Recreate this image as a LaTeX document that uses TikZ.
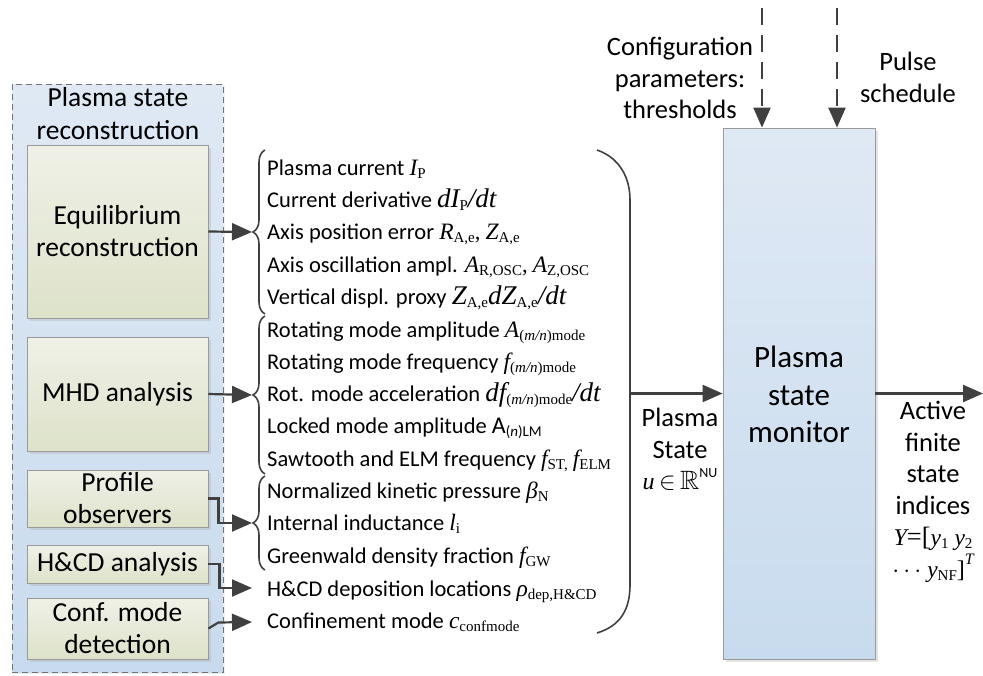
\documentclass[tikz,border=0pt]{standalone}
\usepackage{fontspec}
\usepackage{amssymb}
\setmainfont{Carlito}
\newfontfamily\tms{Liberation Serif}
\usetikzlibrary{arrows.meta,decorations.pathreplacing,shadows}
\definecolor{linec}{HTML}{404040}
\definecolor{gtop}{HTML}{EFF1E7}
\definecolor{gbot}{HTML}{DDE2C9}
\definecolor{btop}{HTML}{DFE9F4}
\definecolor{bbot}{HTML}{C8DBEE}
\definecolor{edgec}{HTML}{9A9A9A}
% math-like helpers
\newcommand\mv[2]{{\fontsize{23.5}{23.5}\selectfont\tms\itshape #1}\raisebox{-3pt}{\fontsize{15}{15}\selectfont\tms #2}}
\newcommand\MV[2]{{\fontsize{27}{27}\selectfont\tms\itshape #1}\raisebox{-3pt}{\fontsize{15}{15}\selectfont\tms #2}}
\newcommand\Mi[1]{{\fontsize{27}{27}\selectfont\tms\itshape #1}}
\newcommand\mi[1]{{\fontsize{24}{24}\selectfont\tms\itshape #1}}
\newcommand\sbi[1]{{\itshape #1}}
\tikzset{
  conn/.style={draw=linec, line width=2.2pt, -{Triangle[length=20pt,width=17pt]}},
  dconn/.style={conn, dash pattern=on 17pt off 10pt},
  brc/.style={draw=linec, line width=1.6pt, decorate, decoration={brace, amplitude=12pt}},
  greenbox/.style={draw=edgec, line width=0.8pt, top color=gtop, bottom color=gbot,
     minimum width=181pt, inner sep=0pt, align=center, font=\fontsize{27.5}{32}\selectfont,
     drop shadow={shadow xshift=3pt, shadow yshift=-3pt, fill=black!30, opacity=0.4}},
  bluebox/.style={draw=edgec, line width=0.8pt, top color=btop, bottom color=bbot, inner sep=0pt},
  item/.style={anchor=base west, inner sep=0pt, font=\fontsize{22.5}{26}\selectfont},
  lbl/.style={align=center, inner sep=0pt, font=\fontsize{26.5}{31.5}\selectfont},
}
\begin{document}
\begin{tikzpicture}[x=1pt,y=-1pt]
\useasboundingbox (0,0) rectangle (983,675);
% outer dashed group
\node[bluebox, draw=black!55, dash pattern=on 6pt off 4pt, minimum width=211pt, minimum height=588pt,
      drop shadow={shadow xshift=2pt, shadow yshift=-2pt, fill=black!20, opacity=0.3}] (psr) at (117.5,378) {};
\node[lbl, font=\fontsize{27.5}{33}\selectfont] (psrt) at (118,113.5) {Plasma state\\reconstruction};
% inner boxes
\node[greenbox, minimum height=173pt] (eq) at (117.5,231.5) {Equilibrium\\reconstruction};
\node[greenbox, minimum height=114pt] (mhd) at (117.5,394) {MHD analysis};
\node[greenbox, minimum height=57pt] (po) at (117.5,498.5) {Profile\\observers};
\node[greenbox, minimum height=38pt] (hc) at (117.5,564) {H\&CD analysis};
\node[greenbox, minimum height=61pt] (cm) at (117.5,628.5) {Conf. mode\\detection};
% braces
\draw[brc] (265,314) -- (265,150);
\draw[brc] (265,474) -- (265,316);
\draw[brc] (265,570) -- (265,476);
\coordinate (b1) at (252,232);
\coordinate (b2) at (252,395);
\coordinate (b3) at (252,523);
\coordinate (b4) at (252,588);
\coordinate (b5) at (252,622);
% connectors from boxes
\draw[conn] (eq.east) -- (b1);
\draw[conn] (mhd.east) -- (b2);
\draw[conn] (po.east) -- ++(10,0) |- (b3);
\draw[conn] (hc.east) -- ++(11,0) |- (b4);
\draw[conn] (cm.east) -- ++(10,-6) -- (b5);
% list items
\node[item] (l1) at (267,175) {Plasma current \mv{I}{P}};
\node[item] (l2) at (267,207) {Current derivative \Mi{d}\MV{I}{P}\Mi{/dt}};
\node[item] (l3) at (267,239) {Axis position error \mv{R}{A,e}{\tms ,} \mv{Z}{A,e}};
\node[item] (l4) at (267,272) {Axis oscillation ampl. \mv{A}{R,OSC}{\tms ,} \mv{A}{Z,OSC}};
\node[item] (l5) at (267,304) {Vertical displ. proxy \MV{Z}{A,e}\Mi{d}\MV{Z}{A,e}\Mi{/dt}};
\node[item] (l6) at (267,337) {Rotating mode amplitude \mv{A}{(\sbi{m/n})mode}};
\node[item] (l7) at (267,369) {Rotating mode frequency \mv{f}{(\sbi{m/n})mode}};
\node[item] (l8) at (267,401) {Rot. mode acceleration \Mi{d}\MV{f}{(\sbi{m/n})mode}\Mi{/dt}};
\node[item] (l9) at (267,433) {Locked mode amplitude {\fontsize{24}{24}\selectfont A}\raisebox{-3pt}{\fontsize{15}{15}\selectfont(\textit{n})LM}};
\node[item] (l10) at (267,466) {Sawtooth and ELM frequency \mv{f}{ST,} \mv{f}{ELM}};
\node[item] (l11) at (267,498) {Normalized kinetic pressure \mv{β}{N}};
\node[item] (l12) at (267,530) {Internal inductance \mv{l}{i}};
\node[item] (l13) at (267,563) {Greenwald density fraction \mv{f}{GW}};
\node[item] (l14) at (267,596) {H\&CD deposition locations \mv{ρ}{dep,H\&CD}};
\node[item] (l15) at (267,628) {Confinement mode \mv{c}{confmode}};
% right parenthesis
\coordinate (p0) at (597,150);
\coordinate (p1) at (630,200);
\coordinate (p2) at (630,585);
\coordinate (p3) at (597,633);
\draw[draw=linec, line width=1.6pt] (p0) .. controls (620,158) and (630,178) .. (p1) -- (p2) .. controls (630,610) and (620,626) .. (p3);
\coordinate (pr) at (630,393.5);
% monitor
\node[bluebox, minimum width=152pt, minimum height=531pt,
      drop shadow={shadow xshift=3pt, shadow yshift=-3pt, fill=black!30, opacity=0.35}] (mon) at (799,393.5) {};
\node[lbl, font=\fontsize{31}{37.5}\selectfont] (mont) at (799,394.5) {Plasma\\state\\monitor};
\draw[conn] (pr) -- (mon.west);
\node[lbl] (ps) at (680,449.5) {Plasma\\State\\{\mi{u}\,$\in$\,$\mathbb{R}$\raisebox{0.45em}{\fontsize{14}{14}\selectfont NU}}};
% top inputs
\coordinate (c1) at (762,8);
\coordinate (c2) at (837,8);
\draw[dconn] (c1) -- (c1 |- mon.north);
\draw[dconn] (c2) -- (c2 |- mon.north);
\node[lbl] (cfg) at (680,78) {Configuration\\parameters:\\thresholds};
\node[lbl] (pls) at (908,77.5) {Pulse\\schedule};
% output
\coordinate (out) at (983,393.5);
\draw[conn] (mon.east) -- (out);
\node[lbl] (act) at (933,492) {Active\\finite\\state\\indices\\{\mi{Y}{\tms =[}\mv{y}{1} \mv{y}{2}}\\{$\cdots$ \mv{y}{NF}{\fontsize{24}{24}\selectfont\tms ]}\raisebox{0.5em}{\fontsize{16}{16}\selectfont\tms\itshape T}}};
\end{tikzpicture}
\end{document}
